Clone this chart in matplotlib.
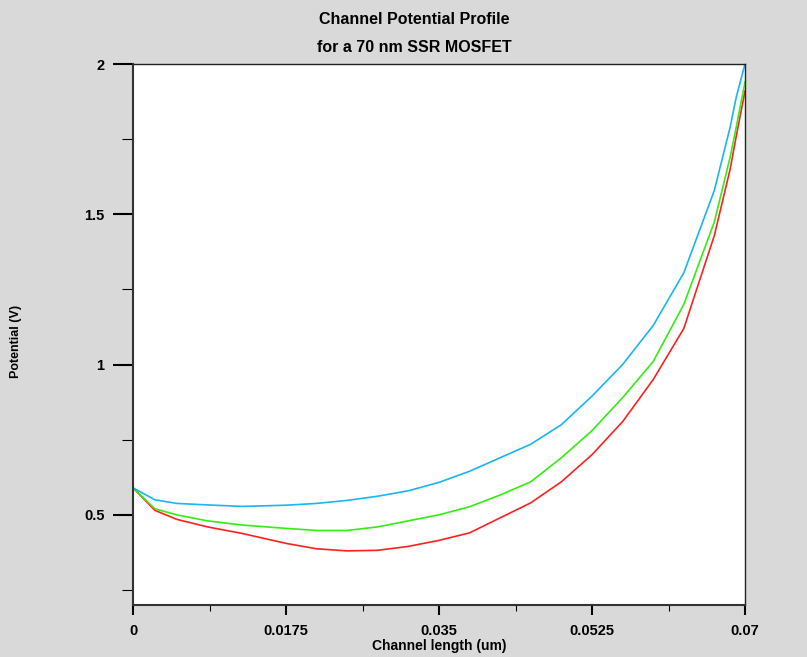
import matplotlib
matplotlib.use("Agg")
import matplotlib.pyplot as plt
from matplotlib.ticker import FixedLocator, MultipleLocator

x = [0, 0.0025, 0.005, 0.0085, 0.0125, 0.0175, 0.021, 0.0245, 0.028, 0.0315,
     0.035, 0.0385, 0.042, 0.0455, 0.049, 0.0525, 0.056, 0.0595, 0.063,
     0.0665, 0.0683, 0.069, 0.07]
blue = [0.59, 0.55, 0.538, 0.533, 0.528, 0.532, 0.538, 0.548, 0.562, 0.58,
        0.608, 0.645, 0.69, 0.735, 0.80, 0.895, 1.00, 1.13, 1.305,
        1.58, 1.79, 1.89, 2.0]
green = [0.59, 0.52, 0.50, 0.48, 0.466, 0.455, 0.448, 0.448, 0.46, 0.48,
         0.50, 0.527, 0.566, 0.61, 0.69, 0.78, 0.89, 1.01, 1.20,
         1.475, 1.69, 1.79, 1.94]
red = [0.59, 0.515, 0.485, 0.46, 0.438, 0.405, 0.387, 0.38, 0.382, 0.395,
       0.415, 0.44, 0.49, 0.54, 0.61, 0.70, 0.81, 0.95, 1.12,
       1.43, 1.65, 1.76, 1.91]

xticks = [0, 0.0175, 0.035, 0.0525, 0.07]
xticklabels = ["0", "0.0175", "0.035", "0.0525", "0.07"]
yticks = [0.5, 1, 1.5, 2]
yticklabels = ["0.5", "1", "1.5", "2"]

plt.rcParams['font.family'] = ['Liberation Sans Narrow', 'Liberation Sans', 'DejaVu Sans']

bg = "#d9d9d9"
fig = plt.figure(figsize=(8.07, 6.57), dpi=100, facecolor=bg)
ax = fig.add_axes([133/807, 1-605/657, (745-133)/807, (605-64)/657])
ax.set_facecolor("white")

ax.plot(x, red, color="#ff2020", lw=1.2)
ax.plot(x, green, color="#33ee11", lw=1.2)
ax.plot(x, blue, color="#19b5f5", lw=1.2)

ax.set_xlim(0, 0.07)
ax.set_ylim(0.2, 2.0)
ax.set_xticks(xticks)
ax.set_xticklabels(xticklabels)
ax.set_yticks(yticks)
ax.set_yticklabels(yticklabels)
ax.xaxis.set_minor_locator(MultipleLocator(0.00875))
ax.yaxis.set_minor_locator(FixedLocator([0.25, 0.75, 1.25, 1.75]))

ax.tick_params(axis='y', which='major', direction='out', length=14.5, width=1.5,
               pad=6, labelsize=10.5, colors='black')
ax.tick_params(axis='y', which='minor', direction='out', length=8, width=0.8)
ax.tick_params(axis='x', which='major', direction='out', length=7.5, width=1.5,
               pad=6, labelsize=10.5)
ax.tick_params(axis='x', which='minor', direction='out', length=4.5, width=0.8)
for lab in ax.get_xticklabels() + ax.get_yticklabels():
    lab.set_fontweight('bold')

for s in ['left', 'bottom']:
    ax.spines[s].set_linewidth(1.5)
    ax.spines[s].set_color('#333333')
for s in ['top', 'right']:
    ax.spines[s].set_linewidth(1.0)
    ax.spines[s].set_color('#222222')

fig.text(414/807, 1-20/657, "Channel Potential Profile", ha='center', va='center',
         fontsize=11.5, fontweight='bold')
fig.text(414/807, 1-47/657, "for a 70 nm SSR MOSFET", ha='center', va='center',
         fontsize=11.5, fontweight='bold')
fig.text(439/807, 1-646/657, "Channel length (um)", ha='center', va='center',
         fontsize=10, fontweight='bold')
fig.text(16/807, 1-341/657, "Potential (V)", ha='center', va='center',
         rotation=90, fontsize=9, fontweight='bold')

fig.savefig("out.png", dpi=100, facecolor=bg)
